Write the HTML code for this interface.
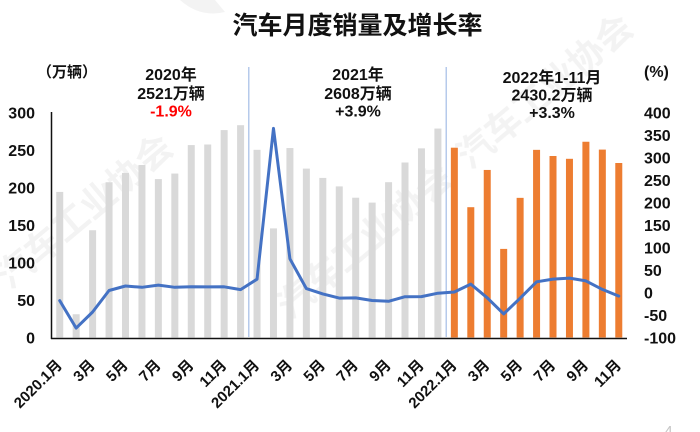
<!DOCTYPE html>
<html>
<head>
<meta charset="utf-8">
<style>
  html,body{margin:0;padding:0;background:#fff;}
  svg{display:block;}
  text{font-family:"Liberation Sans","Noto Sans CJK SC",sans-serif;font-weight:bold;fill:#111;}
</style>
</head>
<body>
<svg width="700" height="432" viewBox="0 0 700 432" xmlns="http://www.w3.org/2000/svg">
  <rect width="700" height="432" fill="#fff"/>
  <!-- faint watermark -->
  <g opacity="0.05">
    <path d="M180 0 Q200 18 225 12 L215 0 Z" fill="#000"/>
    <text x="10" y="290" font-size="36" transform="rotate(-40 10 290)" style="fill:#000">汽车工业协会</text>
    <text x="290" y="320" font-size="36" transform="rotate(-40 290 320)" style="fill:#000">汽车工业协会</text>
    <text x="470" y="170" font-size="36" transform="rotate(-40 470 170)" style="fill:#000">汽车工业协会</text>
  </g>

  <!-- title -->
  <text x="357.5" y="34" font-size="25" text-anchor="middle">汽车月度销量及增长率</text>

  <!-- unit labels -->
  <text x="67" y="77" font-size="15" text-anchor="middle">（万辆）</text>
  <text x="644" y="77" font-size="16">(%)</text>

  <!-- annotations -->
  <g font-size="16" text-anchor="middle">
    <text x="171" y="80">2020年</text>
    <text x="171" y="99">2521万辆</text>
    <text x="171" y="116.5" style="fill:#ff0000">-1.9%</text>
    <text x="358" y="80">2021年</text>
    <text x="358" y="99">2608万辆</text>
    <text x="358" y="116.5">+3.9%</text>
    <text x="552" y="83">2022年1-11月</text>
    <text x="552" y="100.5">2430.2万辆</text>
    <text x="552" y="118">+3.3%</text>
  </g>

  <!-- left axis labels -->
  <g font-size="16" text-anchor="end">
    <text x="35" y="118.3">300</text>
    <text x="35" y="155.8">250</text>
    <text x="35" y="193.3">200</text>
    <text x="35" y="230.8">150</text>
    <text x="35" y="268.3">100</text>
    <text x="35" y="305.8">50</text>
    <text x="35" y="343.3">0</text>
  </g>
  <!-- right axis labels -->
  <g font-size="16">
    <text x="644" y="118.3">400</text>
    <text x="644" y="140.8">350</text>
    <text x="644" y="163.3">300</text>
    <text x="644" y="185.8">250</text>
    <text x="644" y="208.3">200</text>
    <text x="644" y="230.8">150</text>
    <text x="644" y="253.3">100</text>
    <text x="644" y="275.8">50</text>
    <text x="644" y="298.3">0</text>
    <text x="644" y="320.8">-50</text>
    <text x="644" y="343.3">-100</text>
  </g>

  <!-- gray bars 2020-2021 -->
  <g fill="#d9d9d9">
    <rect x="56.22" y="191.9" width="7" height="145.6"/>
    <rect x="72.66" y="314.25" width="7" height="23.25"/>
    <rect x="89.11" y="230.25" width="7" height="107.25"/>
    <rect x="105.55" y="182.25" width="7" height="155.25"/>
    <rect x="121.99" y="172.95" width="7" height="164.55"/>
    <rect x="138.44" y="165" width="7" height="172.5"/>
    <rect x="154.88" y="179.1" width="7" height="158.4"/>
    <rect x="171.32" y="173.55" width="7" height="163.95"/>
    <rect x="187.77" y="145.1" width="7" height="192.4"/>
    <rect x="204.21" y="144.5" width="7" height="193"/>
    <rect x="220.65" y="130.1" width="7" height="207.4"/>
    <rect x="237.09" y="125.2" width="7" height="212.3"/>
    <rect x="253.54" y="149.8" width="7" height="187.7"/>
    <rect x="269.98" y="228.4" width="7" height="109.1"/>
    <rect x="286.42" y="148.05" width="7" height="189.45"/>
    <rect x="302.87" y="168.6" width="7" height="168.9"/>
    <rect x="319.31" y="177.9" width="7" height="159.6"/>
    <rect x="335.75" y="186.4" width="7" height="151.1"/>
    <rect x="352.2" y="197.7" width="7" height="139.8"/>
    <rect x="368.64" y="202.6" width="7" height="134.9"/>
    <rect x="385.08" y="182.2" width="7" height="155.3"/>
    <rect x="401.52" y="162.5" width="7" height="175"/>
    <rect x="417.97" y="148.35" width="7" height="189.15"/>
    <rect x="434.41" y="128.55" width="7" height="208.95"/>
  </g>
  <!-- orange bars 2022 -->
  <g fill="#ed7d31">
    <rect x="450.85" y="147.7" width="7" height="189.8"/>
    <rect x="467.3" y="207.2" width="7" height="130.3"/>
    <rect x="483.74" y="169.95" width="7" height="167.55"/>
    <rect x="500.18" y="248.9" width="7" height="88.6"/>
    <rect x="516.63" y="197.85" width="7" height="139.65"/>
    <rect x="533.07" y="149.85" width="7" height="187.65"/>
    <rect x="549.51" y="156" width="7" height="181.5"/>
    <rect x="565.96" y="158.8" width="7" height="178.7"/>
    <rect x="582.4" y="141.75" width="7" height="195.75"/>
    <rect x="598.84" y="149.6" width="7" height="187.9"/>
    <rect x="615.28" y="163" width="7" height="174.5"/>
  </g>

  <!-- separators -->
  <line x1="248.8" y1="67" x2="248.8" y2="337" stroke="#a4bde6" stroke-width="1.2"/>
  <line x1="446.2" y1="67" x2="446.2" y2="337" stroke="#a4bde6" stroke-width="1.2"/>

  <!-- axes -->
  <line x1="51.5" y1="112" x2="51.5" y2="339" stroke="#111" stroke-width="1.5"/>
  <line x1="51" y1="338.5" x2="627" y2="338.5" stroke="#111" stroke-width="1.5"/>

  <!-- growth line -->
  <polyline fill="none" stroke="#4472c4" stroke-width="3" stroke-linejoin="round" stroke-linecap="round"
    points="59.72,300.6 76.16,328.1 92.61,312 109.05,290.5 125.49,286 141.94,287.3 158.38,285.1 174.82,287.3 191.27,286.7 207.71,286.9 224.15,286.8 240.59,289.6 257.04,279.2 273.48,128.4 289.92,258.8 306.37,288.6 322.81,293.9 339.25,298.1 355.7,297.9 372.14,300.5 388.58,301.3 405.02,296.7 421.47,296.6 437.91,293.2 454.35,292 470.8,284.1 487.24,297.8 503.68,313.9 520.13,298.2 536.57,281.8 553.01,279.1 569.46,278.1 585.9,280.9 602.34,289.4 618.78,296.1"/>

  <!-- x labels -->
  <g font-size="15" text-anchor="end">
    <text x="63" y="366" transform="rotate(-45 63 366)">2020.1月</text>
    <text x="95.9" y="366" transform="rotate(-45 95.9 366)">3月</text>
    <text x="128.8" y="366" transform="rotate(-45 128.8 366)">5月</text>
    <text x="161.7" y="366" transform="rotate(-45 161.7 366)">7月</text>
    <text x="194.6" y="366" transform="rotate(-45 194.6 366)">9月</text>
    <text x="227.5" y="366" transform="rotate(-45 227.5 366)">11月</text>
    <text x="260.3" y="366" transform="rotate(-45 260.3 366)">2021.1月</text>
    <text x="293.2" y="366" transform="rotate(-45 293.2 366)">3月</text>
    <text x="326.1" y="366" transform="rotate(-45 326.1 366)">5月</text>
    <text x="359" y="366" transform="rotate(-45 359 366)">7月</text>
    <text x="391.9" y="366" transform="rotate(-45 391.9 366)">9月</text>
    <text x="424.8" y="366" transform="rotate(-45 424.8 366)">11月</text>
    <text x="457.7" y="366" transform="rotate(-45 457.7 366)">2022.1月</text>
    <text x="490.5" y="366" transform="rotate(-45 490.5 366)">3月</text>
    <text x="523.4" y="366" transform="rotate(-45 523.4 366)">5月</text>
    <text x="556.3" y="366" transform="rotate(-45 556.3 366)">7月</text>
    <text x="589.2" y="366" transform="rotate(-45 589.2 366)">9月</text>
    <text x="622.1" y="366" transform="rotate(-45 622.1 366)">11月</text>
  </g>

  <!-- page number -->
  <text x="664" y="437" font-size="16" style="fill:#c8c8c8;font-weight:normal">4</text>
</svg>
</body>
</html>
